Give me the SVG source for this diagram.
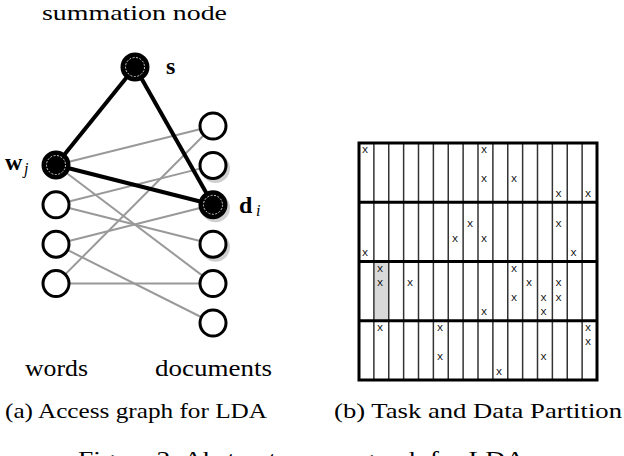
<svg xmlns="http://www.w3.org/2000/svg" width="624" height="456" viewBox="0 0 624 456">
<style>
.lbl{font-size:23px;fill:#000}
.top{font-size:22px;fill:#000}
.cap{font-size:22px;fill:#000}
.bold{font-size:24px;font-weight:bold;fill:#000}
.sub{font-size:16px;font-style:italic;fill:#000}
.hollow{fill:#fff;stroke:#000;stroke-width:3}
.filled{fill:#000;stroke:#000;stroke-width:3}
.inner{fill:none;stroke:#fff;stroke-width:0.8;stroke-dasharray:2 1.5}
.shadow{fill:#cfcfcf}
.gray{stroke:#999;stroke-width:2;fill:none}
.heavy{stroke:#000;stroke-width:4;fill:none}
.vl{stroke:#333;stroke-width:1.5}
.hl{stroke:#000;stroke-width:3}
.x{font-size:11px;fill:#111;text-anchor:middle}
</style>
<rect width="624" height="456" fill="#fff"/>

<g font-family="Liberation Serif, Times New Roman, serif">
<text class="top" x="42" y="19.5" textLength="185" lengthAdjust="spacingAndGlyphs">summation node</text>

<g id="connectors">
<line class="gray" x1="56" y1="165" x2="213" y2="126"/>
<line class="gray" x1="56" y1="165" x2="213" y2="283.6"/>
<line class="gray" x1="56" y1="204.8" x2="213" y2="165.4"/>
<line class="gray" x1="56" y1="204.8" x2="213" y2="244.2"/>
<line class="gray" x1="56" y1="244.2" x2="213" y2="204.8"/>
<line class="gray" x1="56" y1="244.2" x2="213" y2="323"/>
<line class="gray" x1="56" y1="283.6" x2="213" y2="126"/>
<line class="gray" x1="56" y1="283.6" x2="213" y2="283.6"/>
<line class="heavy" x1="135" y1="67" x2="56" y2="165"/>
<line class="heavy" x1="135" y1="67" x2="213" y2="204.8"/>
<line class="heavy" x1="56" y1="165" x2="213" y2="204.8"/>
</g>

<g id="node-s">
<circle class="filled" cx="135" cy="67" r="13"/>
<circle class="inner" cx="135" cy="67" r="9.5"/>
<text class="bold" x="166" y="74">s</text>
</g>

<g id="node-wj">
<circle class="filled" cx="56" cy="165" r="13"/>
<circle class="inner" cx="56" cy="165" r="9.5"/>
<text class="bold" x="5" y="170">w</text><text class="sub" x="24" y="174">j</text>
</g>
<g id="node-w2"><circle class="hollow" cx="56" cy="204.8" r="13"/></g>
<g id="node-w3"><circle class="hollow" cx="56" cy="244.2" r="13"/></g>
<g id="node-w4"><circle class="hollow" cx="56" cy="283.6" r="13"/></g>

<g id="node-doc1"><circle class="hollow" cx="213" cy="126" r="13"/></g>
<g id="node-doc2"><circle class="shadow" cx="215.5" cy="168.4" r="14.5"/><circle class="hollow" cx="213" cy="165.4" r="13"/></g>
<g id="node-di">
<circle class="shadow" cx="215.5" cy="207.8" r="14.5"/>
<circle class="filled" cx="213" cy="204.8" r="13"/>
<circle class="inner" cx="213" cy="204.8" r="9.5"/>
<text class="bold" x="239" y="213">d</text><text class="sub" x="256" y="216">i</text>
</g>
<g id="node-doc4"><circle class="shadow" cx="215.5" cy="247.2" r="14.5"/><circle class="hollow" cx="213" cy="244.2" r="13"/></g>
<g id="node-doc5"><circle class="hollow" cx="213" cy="283.6" r="13"/></g>
<g id="node-doc6"><circle class="hollow" cx="213" cy="323" r="13"/></g>

<text class="lbl" x="25" y="376" textLength="63" lengthAdjust="spacingAndGlyphs">words</text>
<text class="lbl" x="155" y="376" textLength="117" lengthAdjust="spacingAndGlyphs">documents</text>

<text class="cap" x="5" y="418" textLength="262" lengthAdjust="spacingAndGlyphs">(a) Access graph for LDA</text>
<text class="cap" x="334" y="418" textLength="288" lengthAdjust="spacingAndGlyphs">(b) Task and Data Partition</text>
<text class="cap" x="78" y="466" textLength="447" lengthAdjust="spacingAndGlyphs">Figure 2: Abstract access graph for LDA</text>
</g>

<g id="partition">
<rect x="373.875" y="261.5" width="14.875" height="59.25" fill="#d9d9d9"/>
<g class="vl">
<line x1="373.875" y1="143" x2="373.875" y2="380"/>
<line x1="388.75" y1="143" x2="388.75" y2="380"/>
<line x1="403.625" y1="143" x2="403.625" y2="380"/>
<line x1="418.5" y1="143" x2="418.5" y2="380"/>
<line x1="433.375" y1="143" x2="433.375" y2="380"/>
<line x1="448.25" y1="143" x2="448.25" y2="380"/>
<line x1="463.125" y1="143" x2="463.125" y2="380"/>
<line x1="478" y1="143" x2="478" y2="380"/>
<line x1="492.875" y1="143" x2="492.875" y2="380"/>
<line x1="507.75" y1="143" x2="507.75" y2="380"/>
<line x1="522.625" y1="143" x2="522.625" y2="380"/>
<line x1="537.5" y1="143" x2="537.5" y2="380"/>
<line x1="552.375" y1="143" x2="552.375" y2="380"/>
<line x1="567.25" y1="143" x2="567.25" y2="380"/>
<line x1="582.125" y1="143" x2="582.125" y2="380"/>
</g>
<g class="hl">
<line x1="359" y1="202.25" x2="597" y2="202.25"/>
<line x1="359" y1="261.5" x2="597" y2="261.5"/>
<line x1="359" y1="320.75" x2="597" y2="320.75"/>
</g>
<rect x="359" y="143" width="238" height="237" fill="none" stroke="#000" stroke-width="3"/>
<g font-family="Liberation Mono, Courier New, monospace">
<text class="x" x="365" y="153">x</text>
<text class="x" x="484" y="153">x</text>
<text class="x" x="484" y="182.2">x</text>
<text class="x" x="514" y="182.2">x</text>
<text class="x" x="558.5" y="196.8">x</text>
<text class="x" x="588" y="196.8">x</text>

<text class="x" x="365" y="256">x</text>
<text class="x" x="455" y="241.5">x</text>
<text class="x" x="470" y="226.9">x</text>
<text class="x" x="484" y="241.5">x</text>
<text class="x" x="558.5" y="226.9">x</text>
<text class="x" x="573.5" y="256">x</text>

<text class="x" x="380" y="271.5">x</text>
<text class="x" x="380" y="286.1">x</text>
<text class="x" x="410" y="286.1">x</text>
<text class="x" x="484" y="315.3">x</text>
<text class="x" x="514" y="271.5">x</text>
<text class="x" x="514" y="300.7">x</text>
<text class="x" x="529" y="286.1">x</text>
<text class="x" x="543.5" y="300.7">x</text>
<text class="x" x="543.5" y="315.3">x</text>
<text class="x" x="558.5" y="286.1">x</text>
<text class="x" x="558.5" y="300.7">x</text>

<text class="x" x="380" y="330.8">x</text>
<text class="x" x="440" y="330.8">x</text>
<text class="x" x="440" y="360">x</text>
<text class="x" x="499" y="374.6">x</text>
<text class="x" x="543.5" y="360">x</text>
<text class="x" x="588" y="330.8">x</text>
<text class="x" x="588" y="345.4">x</text>
</g>
</g>
</svg>
